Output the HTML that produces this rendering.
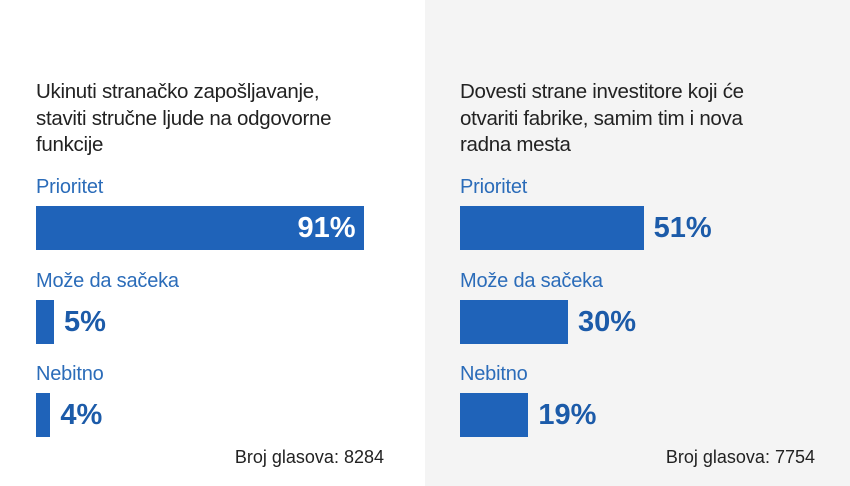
<!DOCTYPE html>
<html><head><meta charset="utf-8"><style>
body{margin:0;width:850px;height:486px;overflow:hidden;background:#fff;font-family:"Liberation Sans",sans-serif}
#root{position:relative;width:850px;height:486px}
.panel{position:absolute;top:0;height:486px}
.t{position:absolute;font-size:20.5px;color:#222;line-height:26.5px;letter-spacing:-0.3px;white-space:nowrap}
.lab{position:absolute;font-size:20px;color:#2b6cb9;letter-spacing:-0.2px}
.bar{position:absolute;background:#1f63b9;height:44px}
.val{position:absolute;font-size:29px;font-weight:bold;color:#1c5ba9;line-height:44px}
.foot{position:absolute;font-size:18px;color:#222;text-align:right}
</style></head><body>
<div id="root">
<div class="panel" style="left:0;width:425px;background:#fff"></div>
<div class="panel" style="left:425px;width:425px;background:#f4f4f4"></div>
</div>
<script>
const categories=["Prioritet","Može da sačeka","Nebitno"];
const leftValues=[91,5,4];
const rightValues=[51,30,19];
const votes=["Broj glasova: 8284","Broj glasova: 7754"];
const titles=[["Ukinuti stranačko zapošljavanje,","staviti stručne ljude na odgovorne","funkcije"],["Dovesti strane investitore koji će","otvariti fabrike, samim tim i nova","radna mesta"]];
const root=document.getElementById('root');
const scale=v=>v*3.6;
const rowY=[206,300,393];
function mk(cls,style,text){const d=document.createElement('div');d.className=cls;Object.assign(d.style,style);if(text!==undefined)d.textContent=text;root.appendChild(d);return d;}
[[36,leftValues,384],[460,rightValues,815]].forEach(([x0,vals,footR],p)=>{
  const t=mk('t',{left:x0+'px',top:'79px'});t.innerHTML=titles[p].join('<br>');
  
  
  vals.forEach((v,i)=>{
    const l=mk('lab',{left:x0+'px',top:(rowY[i]-30)+'px'},categories[i]);
    
    
    const w=scale(v);
    const b=mk('bar',{left:x0+'px',top:rowY[i]+'px',width:w+'px'});
    
    
    const inside=w>200;
    const vl=mk('val',{top:rowY[i]+'px',color:inside?'#fff':'#1c5ba9'},v+'%');
    if(inside){vl.style.left=(x0+w-80)+'px';vl.style.width='72px';vl.style.textAlign='right';}
    else vl.style.left=(x0+w+10)+'px';
    
    
  });
  const f=mk('foot',{left:(footR-250)+'px',width:'250px',top:'447px'},votes[p]);
  
  
});
</script>
</body></html>
